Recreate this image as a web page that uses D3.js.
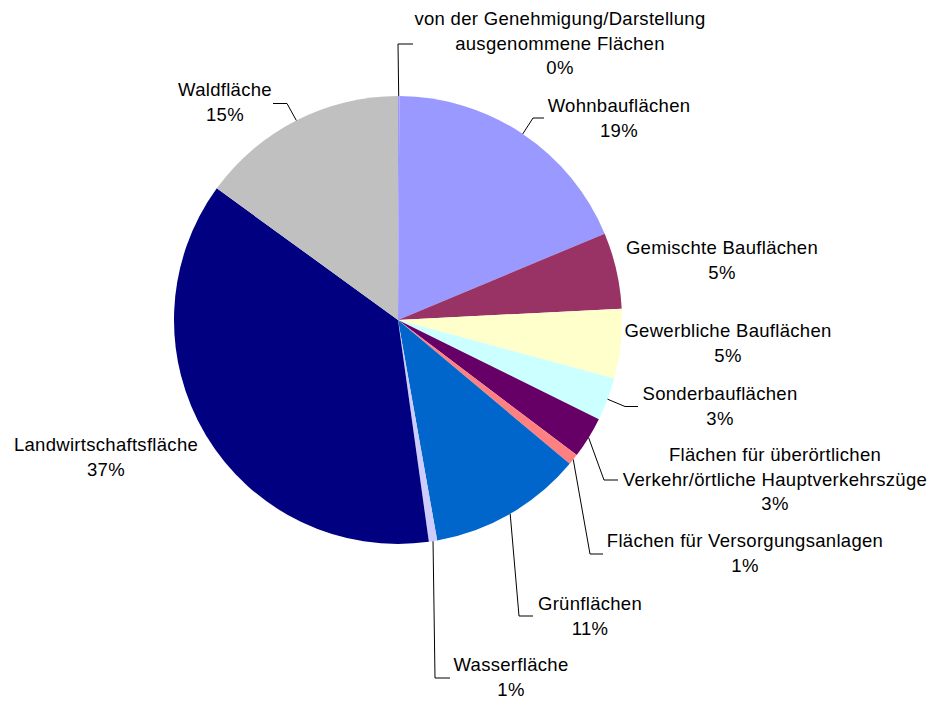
<!DOCTYPE html>
<html>
<head>
<meta charset="utf-8">
<script src="https://cdn.jsdelivr.net/npm/d3@7"></script>
<style>
  body { margin: 0; background: #fff; }
  text { font-family: "Liberation Sans", Arial, sans-serif; font-size: 18.5px; fill: #000; letter-spacing: 0.3px; }
</style>
</head>
<body>
<svg width="935" height="702"></svg>
<script>

// data (share of the area in %)
var categories = [
	["von der Genehmigung/Darstellung", "ausgenommene Flächen"],
	["Wohnbauflächen"],
	["Gemischte Bauflächen"],
	["Gewerbliche Bauflächen"],
	["Sonderbauflächen"],
	["Flächen für überörtlichen", "Verkehr/örtliche Hauptverkehrszüge"],
	["Flächen für Versorgungsanlagen"],
	["Grünflächen"],
	["Wasserfläche"],
	["Landwirtschaftsfläche"],
	["Waldfläche"]
];
var values = [0.1, 18.6, 5.5, 5.0, 3.1, 3.0, 0.8, 11.1, 0.6, 37.2, 15.0];
var percentLabels = ["0%", "19%", "5%", "5%", "3%", "3%", "1%", "11%", "1%", "37%", "15%"];

var colors = ["#9999ff", "#9999ff", "#993366", "#ffffcc", "#ccffff", "#660066",
	"#ff8080", "#0066cc", "#ccccff", "#000080", "#c0c0c0"];

// label layout: text centre + first baseline, leader elbow + end (null = no leader)
var layout = [
	{x: 560, y: 25,  elbow: [398, 44],    end: [413, 44]},
	{x: 619, y: 112, elbow: [533, 118],   end: [544, 118]},
	{x: 722, y: 254, elbow: null},
	{x: 728, y: 337, elbow: null},
	{x: 720, y: 400, elbow: [625, 406.5], end: [638, 406.5]},
	{x: 775, y: 461, elbow: [604, 480],   end: [618, 480]},
	{x: 745, y: 547, elbow: [590, 554],   end: [603, 554]},
	{x: 590, y: 610, elbow: [519, 616],   end: [533, 616]},
	{x: 511, y: 671, elbow: [435, 678],   end: [450, 678]},
	{x: 106, y: 451, elbow: null},
	{x: 225, y: 96,  elbow: [287, 103.5], end: [273, 103.5]}
];

var cx = 398, cy = 320, radius = 224, lineH = 24.5;

var svg = d3.select("svg");

var g = svg.append("g")
		.attr("transform", "translate(" + cx + "," + cy + ")");

var pie = d3.pie()
	.sort(null)
	.value(function(d) { return d; });

var arc = d3.arc()
	.innerRadius(0)
	.outerRadius(radius);

var arcs = pie(values);

g.selectAll("path.slice")
	.data(arcs)
  .enter().append("path")
	.attr("class", "slice")
	.attr("d", arc)
	.attr("fill", function(d, i) { return colors[i]; });

// leader lines from the rim at the slice's mid angle
svg.selectAll("path.leader")
	.data(arcs.filter(function(d, i) { return layout[i].elbow; }))
  .enter().append("path")
	.attr("class", "leader")
	.attr("fill", "none")
	.attr("stroke", "#000")
	.attr("stroke-width", 1)
	.attr("d", function(d) {
		var a = (d.startAngle + d.endAngle) / 2;
		var L = layout[d.index];
		var sx = cx + radius * Math.sin(a), sy = cy - radius * Math.cos(a);
		return "M" + sx + "," + sy + "L" + L.elbow[0] + "," + L.elbow[1] + "L" + L.end[0] + "," + L.end[1];
	});

// labels
var labels = svg.selectAll("text.lbl")
	.data(arcs)
  .enter().append("text")
	.attr("class", "lbl")
	.attr("text-anchor", "middle");

labels.each(function(d, i) {
	var t = d3.select(this);
	var lines = categories[i].concat([percentLabels[i]]);
	lines.forEach(function(s, k) {
		t.append("tspan")
			.attr("x", layout[i].x)
			.attr("y", layout[i].y + k * lineH)
			.text(s);
	});
});

</script>
</body>
</html>
